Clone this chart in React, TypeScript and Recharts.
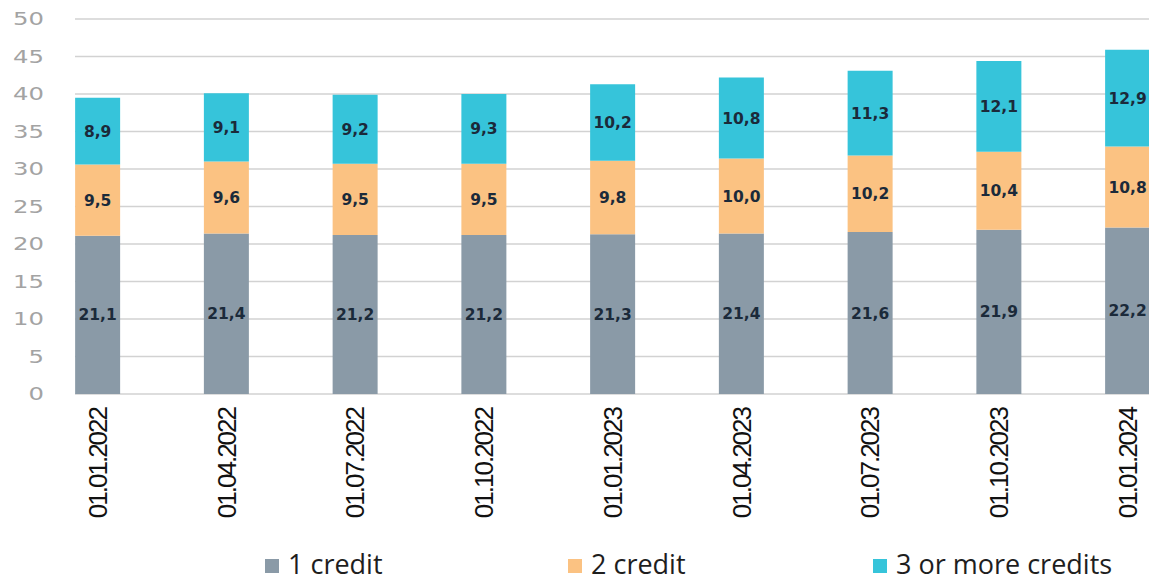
import React from "react";
import {
  BarChart,
  Bar,
  XAxis,
  YAxis,
  CartesianGrid,
  Legend,
  LabelList,
} from "recharts";

const dates = [
  "01.01.2022",
  "01.04.2022",
  "01.07.2022",
  "01.10.2022",
  "01.01.2023",
  "01.04.2023",
  "01.07.2023",
  "01.10.2023",
  "01.01.2024",
];
const oneCredit = [21.1, 21.4, 21.2, 21.2, 21.3, 21.4, 21.6, 21.9, 22.2];
const twoCredits = [9.5, 9.6, 9.5, 9.5, 9.8, 10.0, 10.2, 10.4, 10.8];
const threePlus = [8.9, 9.1, 9.2, 9.3, 10.2, 10.8, 11.3, 12.1, 12.9];
const yTicks = [0, 5, 10, 15, 20, 25, 30, 35, 40, 45, 50];
const seriesNames = ["1 credit", "2 credit", "3 or more credits"];

const chartData = dates.map((d, i) => ({
  idx: i,
  date: d,
  one: oneCredit[i],
  two: twoCredits[i],
  three: threePlus[i],
}));

const fmt = (v: any) => Number(v).toFixed(1).replace(".", ",");

const DateTick = (props: any) => {
  const { x, y, payload } = props;
  return (
    <g transform={`translate(${x},${y})`}>
      <text
        transform="rotate(-90)"
        x={-6}
        y={0}
        dy="0.36em"
        textAnchor="end"
        fill="#111"
        fontFamily="Liberation Sans, Arial, sans-serif"
        fontSize={26}
        letterSpacing={-2}
      >
        {dates[payload.value]}
      </text>
    </g>
  );
};

// wide, light numbers on the value axis
const ValueTick = (props: any) => {
  const { x, y, payload } = props;
  return (
    <g transform={`translate(${x - 23},${y}) scale(1.35,1)`}>
      <text
        x={0}
        y={0}
        dy="0.36em"
        textAnchor="end"
        fill="#a3a3a3"
        fontFamily="DejaVu Sans, sans-serif"
        fontSize={18}
      >
        {payload.value}
      </text>
    </g>
  );
};

const legendLeft = [257, 560, 865];

const LegendContent = (props: any) => {
  const items = props.payload || [];
  return (
    <div style={{ position: "relative", height: 40 }}>
      {items.map((it: any, i: number) => (
        <div
          key={i}
          style={{
            position: "absolute",
            left: legendLeft[i],
            top: 4,
            display: "flex",
            alignItems: "center",
            fontFamily: "Open Sans, sans-serif",
            fontSize: 27,
            color: "#1e1e1e",
            whiteSpace: "nowrap",
          }}
        >
          <span
            style={{
              display: "inline-block",
              width: 14,
              height: 14,
              background: it.color,
              marginRight: 9,
              marginTop: 5,
            }}
          />
          {it.value}
        </div>
      ))}
    </div>
  );
};

const labelStyle = {
  fill: "#1b2a3a",
  fontSize: 15.5,
  fontWeight: 600,
  fontFamily: "DejaVu Sans, sans-serif",
};

export default function App() {
  return (
    <BarChart
      width={1149}
      height={573}
      data={chartData}
      margin={{ top: 11, right: 7, left: 0, bottom: 0 }}
    >
      <CartesianGrid vertical={false} stroke="#d2d2d2" strokeWidth={1.6} />
      <XAxis
        type="number"
        dataKey="idx"
        domain={[-0.1748, 8.1748]}
        ticks={[0, 1, 2, 3, 4, 5, 6, 7, 8]}
        interval={0}
        axisLine={false}
        tickLine={false}
        height={147}
        tick={<DateTick />}
      />
      <YAxis
        width={67}
        domain={[0, 50]}
        ticks={yTicks}
        interval={0}
        axisLine={false}
        tickLine={false}
        tick={<ValueTick />}
      />
      <Legend
        verticalAlign="bottom"
        height={40}
        content={<LegendContent />}
      />
      <Bar
        dataKey="one"
        name={seriesNames[0]}
        stackId="a"
        fill="#8a9aa7"
        barSize={45}
        isAnimationActive={false}
      >
        <LabelList dataKey="one" position="center" formatter={fmt} style={labelStyle} />
      </Bar>
      <Bar
        dataKey="two"
        name={seriesNames[1]}
        stackId="a"
        fill="#fbc282"
        barSize={45}
        isAnimationActive={false}
      >
        <LabelList dataKey="two" position="center" formatter={fmt} style={labelStyle} />
      </Bar>
      <Bar
        dataKey="three"
        name={seriesNames[2]}
        stackId="a"
        fill="#36c4da"
        barSize={45}
        isAnimationActive={false}
      >
        <LabelList dataKey="three" position="center" formatter={fmt} style={labelStyle} />
      </Bar>
    </BarChart>
  );
}
